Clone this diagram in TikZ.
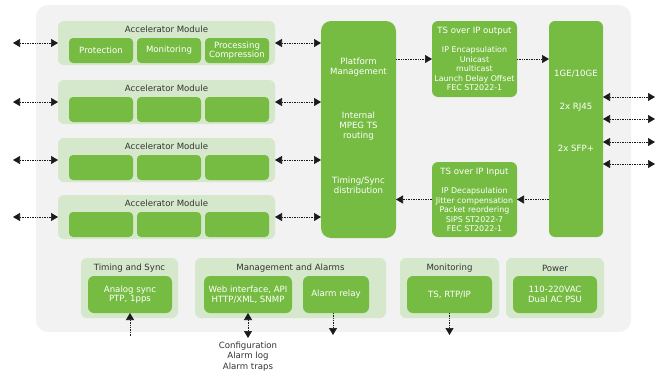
\documentclass[tikz,border=0pt]{standalone}
\usepackage{fontspec}
\setmainfont{DejaVu Sans}
\usetikzlibrary{arrows.meta}
\definecolor{gbg}{HTML}{F2F2F2}
\definecolor{gmain}{HTML}{76BC43}
\definecolor{glight}{HTML}{D5E8CC}
\definecolor{txt}{HTML}{333333}
\definecolor{arr}{HTML}{1A1A1A}
\begin{document}
\begin{tikzpicture}[x=1pt,y=-1pt,
  box/.style={fill=gmain, draw=none, rounded corners=4pt, inner sep=0pt, outer sep=0pt, anchor=north west, text=white, align=center, font=\fontsize{8.6}{9.6}\selectfont},
  panel/.style={fill=glight, draw=none, rounded corners=6pt, inner sep=0pt, outer sep=0pt, anchor=north west},
  ttl/.style={text=txt, inner sep=0pt, align=center, font=\fontsize{8.6}{10}\selectfont},
  wtxt/.style={text=white, inner sep=0pt, align=center, font=\fontsize{8.6}{10}\selectfont},
  dtxt/.style={text=white, inner sep=0pt, align=center, font=\fontsize{7.9}{9.5}\selectfont},
  tip/.tip={Triangle[length=7pt,width=8pt]},
  link/.style={draw=arr, densely dotted, line width=0.7pt, -tip},
  dlink/.style={draw=arr, densely dotted, line width=0.7pt, tip-tip},
]
\useasboundingbox (0,0) rectangle (665,378);
\node[fill=gbg, rounded corners=12pt, inner sep=0pt, outer sep=0pt, anchor=north west, minimum width=595pt, minimum height=327pt] (bg) at (36,5) {};

% accelerator modules
\foreach \i/\y in {1/21,2/80,3/138,4/195}{
  \node[panel, minimum width=217pt, minimum height=44pt] (am\i) at (58,\y) {};
  \node[ttl] (amt\i) at (166.5,\y+8.5) {Accelerator Module};
}
\node[box, minimum width=64pt, minimum height=25pt] (a11) at (69,38) {Protection};
\node[box, minimum width=64pt, minimum height=25pt] (a12) at (137,38) {Monitoring};
\node[box, minimum width=64pt, minimum height=25pt] (a13) at (205,38) {Processing\\Compression};
\foreach \i/\y in {2/97,3/155,4/212}{
  \node[box, minimum width=64pt, minimum height=25pt] (a\i1) at (69,\y) {};
  \node[box, minimum width=64pt, minimum height=25pt] (a\i2) at (137,\y) {};
  \node[box, minimum width=64pt, minimum height=25pt] (a\i3) at (205,\y) {};
}

% platform management
\node[box, rounded corners=10pt, minimum width=75pt, minimum height=217pt] (pm) at (321,21) {};
\node[wtxt] (pmt1) at (358.5,67.5) {Platform\\Management};
\node[wtxt] (pmt2) at (358.5,126) {Internal\\MPEG TS\\routing};
\node[wtxt] (pmt3) at (358.5,185) {Timing/Sync\\distribution};

% TS over IP output
\node[box, rounded corners=6pt, minimum width=85pt, minimum height=76pt] (tso) at (432,21) {};
\node[wtxt] (tsot) at (474.5,31) {TS over IP output};
\node[dtxt] (tsod) at (474.5,69) {IP Encapsulation\\Unicast\\multicast\\Launch Delay Offset\\FEC ST2022-1};

% TS over IP input
\node[box, rounded corners=6pt, minimum width=85pt, minimum height=75pt] (tsi) at (432,162) {};
\node[wtxt] (tsit) at (474.5,172) {TS over IP Input};
\node[dtxt] (tsid) at (474.5,210) {IP Decapsulation\\Jitter compensation\\Packet reordering\\SIPS ST2022-7\\FEC ST2022-1};

% 1GE/10GE
\node[box, rounded corners=6pt, minimum width=54pt, minimum height=216pt] (ge) at (549,21) {};
\node[wtxt] (get1) at (576,74) {1GE/10GE};
\node[wtxt] (get2) at (576,107) {2x RJ45};
\node[wtxt] (get3) at (576,148) {2x SFP+};

% bottom panels
\node[panel, minimum width=97pt, minimum height=60pt] (tsp) at (81,258) {};
\node[ttl] (tspt) at (129.5,268) {Timing and Sync};
\node[box, rounded corners=6pt, minimum width=84pt, minimum height=37pt] (as) at (88,276) {Analog sync\\PTP, 1pps};

\node[panel, minimum width=191pt, minimum height=60pt] (map) at (195,258) {};
\node[ttl] (mapt) at (290.5,268) {Management and Alarms};
\node[box, rounded corners=6pt, minimum width=88pt, minimum height=37pt] (web) at (204,276) {Web interface, API\\HTTP/XML, SNMP};
\node[box, rounded corners=6pt, minimum width=66pt, minimum height=37pt] (ar) at (303,276) {Alarm relay};

\node[panel, minimum width=99pt, minimum height=60pt] (mop) at (400,258) {};
\node[ttl] (mopt) at (449.5,268) {Monitoring};
\node[box, rounded corners=6pt, minimum width=85pt, minimum height=37pt] (mo) at (407,276) {TS, RTP/IP};

\node[panel, minimum width=98pt, minimum height=60pt] (pwp) at (506,258) {};
\node[ttl] (pwpt) at (555,268) {Power};
\node[box, rounded corners=6pt, minimum width=84pt, minimum height=37pt] (pw) at (513,276) {110-220VAC\\Dual AC PSU};

% connectors: modules
\foreach \i in {1,2,3,4}{
  \coordinate (l\i) at ([xshift=-45pt]am\i.west);
  \draw[dlink] (l\i) -- (am\i.west);
  \draw[dlink] (am\i.east) -- (pm.west |- am\i.east);
}
\draw[link] (pm.east |- tso.west) -- (tso.west);
\draw[link] (tso.east) -- (ge.west |- tso.east);
\draw[link] (ge.west |- tsi.east) -- (tsi.east);
\draw[link] (tsi.west) -- (pm.east |- tsi.west);

\foreach \i/\y in {1/97,2/119,3/142,4/164}{
  \coordinate (r\i) at (655,\y);
  \draw[dlink] (ge.east |- r\i) -- (r\i);
}

% bottom connectors
\coordinate (t0) at (130,336);
\draw[link] (t0) -- (t0 |- as.south);
\coordinate (c0) at (248,338);
\draw[dlink] (web.south) -- (c0);
\node[text=txt, inner sep=0pt, align=center, font=\fontsize{8.6}{10.2}\selectfont, anchor=north] (cfg) at (248,342) {Configuration\\Alarm log\\Alarm traps};
\coordinate (ar0) at (333,335);
\draw[link] (ar0 |- ar.south) -- (ar0);
\coordinate (mo0) at (449.5,335);
\draw[link] (mo.south) -- (mo0);
\end{tikzpicture}
\end{document}
